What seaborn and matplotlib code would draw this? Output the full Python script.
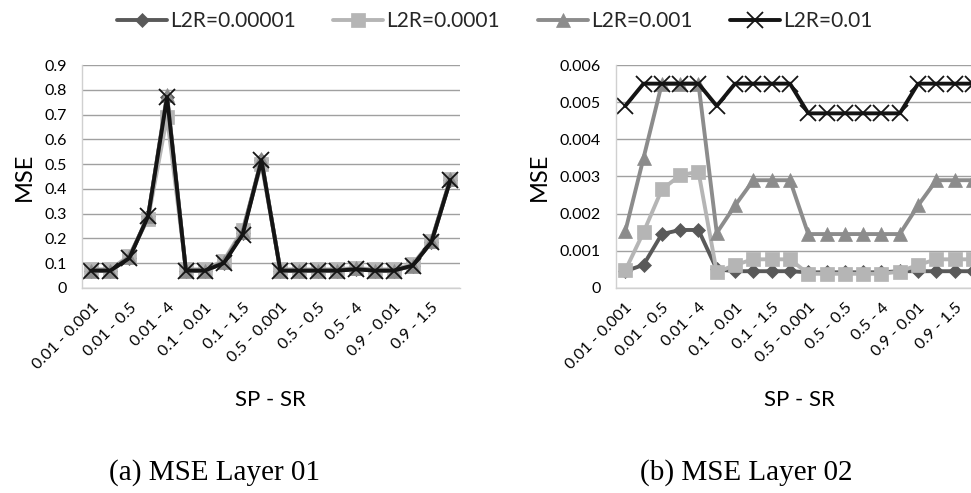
import matplotlib
matplotlib.use("Agg")
import matplotlib.pyplot as plt
import seaborn as sns
import numpy as np

sns.set_style("white")
plt.rcParams['font.family'] = ['Lato', 'DejaVu Sans']

categories = ["0.01 - 0.001", "0.01 - 0.01", "0.01 - 0.5", "0.01 - 1.5", "0.01 - 4",
              "0.1 - 0.001", "0.1 - 0.01", "0.1 - 0.5", "0.1 - 1.5", "0.1 - 4",
              "0.5 - 0.001", "0.5 - 0.01", "0.5 - 0.5", "0.5 - 1.5", "0.5 - 4",
              "0.9 - 0.001", "0.9 - 0.01", "0.9 - 0.5", "0.9 - 1.5", "0.9 - 4"]

series_names = ["L2R=0.00001", "L2R=0.0001", "L2R=0.001", "L2R=0.01"]

# Layer 01
l1_00001 = [0.07, 0.07, 0.12, 0.29, 0.77, 0.07, 0.07, 0.10, 0.22, 0.515,
            0.07, 0.07, 0.07, 0.07, 0.075, 0.07, 0.07, 0.09, 0.185, 0.435]
l1_0001 = [0.075, 0.075, 0.13, 0.28, 0.69, 0.075, 0.075, 0.11, 0.235, 0.50,
           0.075, 0.075, 0.075, 0.075, 0.08, 0.075, 0.075, 0.095, 0.19, 0.44]
l1_001 = [0.07, 0.07, 0.125, 0.29, 0.78, 0.07, 0.07, 0.105, 0.225, 0.52,
          0.07, 0.07, 0.07, 0.07, 0.08, 0.07, 0.07, 0.09, 0.19, 0.44]
l1_01 = [0.07, 0.07, 0.12, 0.29, 0.77, 0.07, 0.07, 0.10, 0.215, 0.515,
         0.07, 0.07, 0.07, 0.07, 0.075, 0.07, 0.07, 0.09, 0.185, 0.435]

# Layer 02
l2_00001 = [0.00045, 0.00062, 0.00145, 0.00156, 0.00156, 0.0005, 0.00045, 0.00045, 0.00045, 0.00045,
            0.00042, 0.00042, 0.00042, 0.00042, 0.00042, 0.00045, 0.00045, 0.00045, 0.00045, 0.00045]
l2_0001 = [0.00047, 0.0015, 0.00265, 0.00303, 0.00313, 0.00042, 0.00062, 0.00077, 0.00077, 0.00077,
           0.00038, 0.00038, 0.00038, 0.00038, 0.00038, 0.00044, 0.00062, 0.00077, 0.00077, 0.00077]
l2_001 = [0.00152, 0.0035, 0.0055, 0.0055, 0.0055, 0.00148, 0.00222, 0.0029, 0.0029, 0.0029,
          0.00145, 0.00145, 0.00145, 0.00145, 0.00145, 0.00145, 0.00222, 0.0029, 0.0029, 0.0029]
l2_01 = [0.0049, 0.0055, 0.0055, 0.0055, 0.0055, 0.0049, 0.0055, 0.0055, 0.0055, 0.0055,
         0.0047, 0.0047, 0.0047, 0.0047, 0.0047, 0.0047, 0.0055, 0.0055, 0.0055, 0.0055]

layer1 = [l1_00001, l1_0001, l1_001, l1_01]
layer2 = [l2_00001, l2_0001, l2_001, l2_01]

colors = ["#595959", "#b5b5b5", "#8c8c8c", "#141414"]
markers = ["D", "s", "^", "x"]
msizes = [7.5, 10, 10, 11]

fig = plt.figure(figsize=(9.71, 4.93), dpi=100)
ax1 = fig.add_axes([0.0845, 0.416, 0.389, 0.452])
ax2 = fig.add_axes([0.6345, 0.416, 0.377, 0.452])

def draw(ax, data, yticks, ylabels):
    for name, vals, c, m, ms in zip(series_names, data, colors, markers, msizes):
        kw = dict(markeredgecolor=c, markeredgewidth=1.3 if m == "x" else 0.5)
        sns.lineplot(x=categories, y=vals, ax=ax, color=c, marker=m, markersize=ms,
                     linewidth=2.8, label=name, sort=False, **kw)
    ax.get_legend().remove()
    ax.set_xlim(-0.5, len(categories) - 0.5)
    ax.set_ylim(yticks[0], yticks[-1])
    ax.set_yticks(yticks)
    ax.set_yticklabels(ylabels, fontsize=11.5, color="#000000")
    ax.set_xticks(range(0, len(categories), 2))
    ax.set_xticklabels(categories[::2], rotation=45, ha="right",
                       rotation_mode="anchor", fontsize=11.5, color="#000000")
    ax.tick_params(axis="x", length=0, pad=9)
    ax.tick_params(axis="y", length=0, pad=11)
    ax.yaxis.grid(True, color="#a0a0a0", linewidth=1.0)
    ax.xaxis.grid(False)
    ax.set_axisbelow(True)
    for s in ["top", "right"]:
        ax.spines[s].set_visible(False)
    for s in ["left", "bottom"]:
        ax.spines[s].set_color("#d0d0d0")
        ax.spines[s].set_linewidth(1.0)
    ax.set_ylabel("MSE", fontsize=17, color="#000000", labelpad=7)
    ax.set_xlabel("SP - SR", fontsize=16, color="#000000", labelpad=13)

draw(ax1, layer1, [0, 0.1, 0.2, 0.3, 0.4, 0.5, 0.6, 0.7, 0.8, 0.9],
     ["0", "0.1", "0.2", "0.3", "0.4", "0.5", "0.6", "0.7", "0.8", "0.9"])
draw(ax2, layer2, [0, 0.001, 0.002, 0.003, 0.004, 0.005, 0.006],
     ["0", "0.001", "0.002", "0.003", "0.004", "0.005", "0.006"])

handles, labels = ax1.get_legend_handles_labels()
fig.legend(handles, labels, loc="center", bbox_to_anchor=(0.5 + 9 / 971, 0.957), ncol=4,
           frameon=False, fontsize=15, handlelength=2.4, handletextpad=0.15,
           columnspacing=1.8, numpoints=1, markerscale=1.0)

fig.text(214 / 971, 1 - 473 / 493, "(a) MSE Layer 01", ha="center", va="center",
         fontsize=21, family="Liberation Serif", color="#000000")
fig.text(746 / 971, 1 - 473 / 493, "(b) MSE Layer 02", ha="center", va="center",
         fontsize=21, family="Liberation Serif", color="#000000")

fig.savefig("out.png", dpi=100)
